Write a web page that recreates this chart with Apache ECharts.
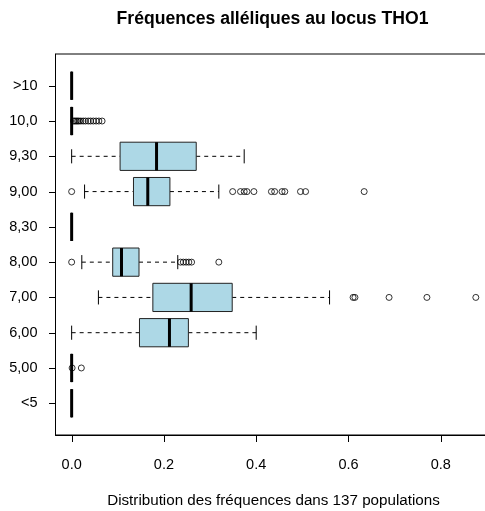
<!DOCTYPE html>
<html>
<head>
<meta charset="utf-8">
<script src="https://cdn.jsdelivr.net/npm/echarts@6/dist/echarts.min.js"></script>
<style>html,body{margin:0;padding:0;background:#fff}#c{width:485px;height:511px}</style>
</head>
<body>
<div id="c"></div>
<script>
// Categories from bottom to top
var categories = ['<5', '5,00', '6,00', '7,00', '8,00', '8,30', '9,00', '9,30', '10,0', '>10'];
var lowWhisker  = [0, 0, 0.000, 0.058, 0.022, 0, 0.028, 0.000, 0, 0];
var q1          = [0, 0, 0.147, 0.176, 0.089, 0, 0.134, 0.105, 0, 0];
var median      = [0, 0, 0.212, 0.259, 0.108, 0, 0.165, 0.184, 0, 0];
var q3          = [0, 0, 0.253, 0.348, 0.146, 0, 0.213, 0.270, 0, 0];
var highWhisker = [0, 0, 0.400, 0.559, 0.230, 0, 0.319, 0.374, 0, 0];
// Outliers per category
var outliers5  = [0.001, 0.021];
var outliers7  = [0.610, 0.614, 0.688, 0.770, 0.876];
var outliers8  = [0.000, 0.236, 0.242, 0.248, 0.254, 0.260, 0.319];
var outliers9  = [0.000, 0.349, 0.366, 0.374, 0.380, 0.395, 0.433, 0.440, 0.456, 0.462, 0.496, 0.507, 0.634];
var outliers10 = [0.004, 0.007, 0.010, 0.013, 0.016, 0.020, 0.025, 0.030, 0.036, 0.041, 0.047, 0.053, 0.059, 0.066];
var xTicks = [0, 0.2, 0.4, 0.6, 0.8];

var FONT = 'Liberation Sans, Arial, sans-serif';
var X_MIN = -0.035, X_MAX = 0.91, Y_MIN = 0.1, Y_MAX = 10.9;
var boxData = categories.map(function (c, i) {
  return [i + 1, lowWhisker[i], q1[i], median[i], q3[i], highWhisker[i]];
});
var outlierData = [];
function addOut(cat, arr) {
  var y = categories.indexOf(cat) + 1;
  arr.forEach(function (v) { outlierData.push([v, y]); });
}
addOut('5,00', outliers5);
addOut('7,00', outliers7);
addOut('8,00', outliers8);
addOut('9,00', outliers9);
addOut('10,0', outliers10);
var yTicks = categories.map(function (c, i) { return i + 1; });

var HALF = 0.4, STAPLE = 0.2, TICK = 7;
function renderBox(params, api) {
  var y = api.value(0);
  var lo = api.value(1), a = api.value(2), m = api.value(3), b = api.value(4), hi = api.value(5);
  function P(x, yy) { return api.coord([x, yy]); }
  function seg(x1, y1, x2, y2, style) {
    var p = P(x1, y1), q = P(x2, y2);
    return {type: 'line', shape: {x1: p[0], y1: p[1], x2: q[0], y2: q[1]}, style: style};
  }
  var dash = {stroke: '#000', lineWidth: 1, lineDash: [4, 4]};
  var solid = {stroke: '#000', lineWidth: 1};
  var pa = P(a, y + HALF), pb = P(b, y - HALF);
  var ch = [
    seg(lo, y, a, y, dash),
    seg(b, y, hi, y, dash),
    seg(lo, y + STAPLE, lo, y - STAPLE, solid),
    seg(hi, y + STAPLE, hi, y - STAPLE, solid),
    {type: 'rect', shape: {x: pa[0], y: pa[1], width: pb[0] - pa[0], height: pb[1] - pa[1]}, style: {fill: '#ADD8E6', stroke: '#222', lineWidth: 1}},
    seg(m, y + HALF, m, y - HALF, {stroke: '#000', lineWidth: 3})
  ];
  return {type: 'group', children: ch};
}

var chart = echarts.init(document.getElementById('c'), null, {renderer: 'canvas'});
chart.setOption({
  animation: false,
  backgroundColor: '#fff',
  title: {
    text: 'Fréquences alléliques au locus THO1',
    left: 267.5, top: 5, textAlign: 'center',
    textStyle: {fontFamily: FONT, fontSize: 17.6, fontWeight: 'bold', color: '#000'}
  },
  grid: {left: 55.5, top: 54, width: 436, bottom: 76, show: true, borderColor: '#000', borderWidth: 1,
    backgroundColor: 'transparent', outerBoundsMode: 'none', containLabel: false},
  xAxis: {
    type: 'value', min: X_MIN, max: X_MAX,
    name: 'Distribution des fréquences dans 137 populations',
    nameLocation: 'middle', nameGap: 58,
    nameTextStyle: {fontFamily: FONT, fontSize: 15.2, color: '#000'},
    axisLine: {show: true, onZero: false, lineStyle: {color: '#000', width: 1}},
    splitLine: {show: false},
    axisTick: {show: false},
    axisLabel: {customValues: xTicks, margin: 22, fontFamily: FONT, fontSize: 14.5, color: '#000',
      formatter: function (v) { return v.toFixed(1); }}
  },
  yAxis: {
    type: 'value', min: Y_MIN, max: Y_MAX,
    axisLine: {show: true, onZero: false, lineStyle: {color: '#000', width: 1}},
    splitLine: {show: false},
    axisTick: {show: false},
    axisLabel: {customValues: yTicks, margin: 18, fontFamily: FONT, fontSize: 14.5, color: '#000',
      formatter: function (v) { return categories[Math.round(v) - 1] || ''; }}
  },
  series: [
    {type: 'custom', renderItem: renderBox, data: boxData, encode: {x: [1, 2, 3, 4, 5], y: 0}, clip: false},
    {type: 'scatter', data: outlierData, symbol: 'circle', symbolSize: 6,
      itemStyle: {color: 'rgba(0,0,0,0)', borderColor: '#000', borderWidth: 1}, z: 3}
  ]
});

// Tick marks as thin filled rectangles, placed through the library's own axis scales
var tickEls = [];
xTicks.forEach(function (v) {
  var p = chart.convertToPixel({gridIndex: 0}, [v, Y_MIN]);
  tickEls.push({type: 'rect', z: 100, silent: true,
    shape: {x: Math.round(p[0]), y: Math.round(p[1]), width: 1, height: TICK},
    style: {fill: '#000', stroke: null}});
});
yTicks.forEach(function (v) {
  var p = chart.convertToPixel({gridIndex: 0}, [X_MIN, v]);
  tickEls.push({type: 'rect', z: 100, silent: true,
    shape: {x: Math.round(p[0]) - TICK, y: Math.round(p[1]), width: TICK, height: 1},
    style: {fill: '#000', stroke: null}});
});
chart.setOption({graphic: tickEls});
</script>
</body>
</html>
